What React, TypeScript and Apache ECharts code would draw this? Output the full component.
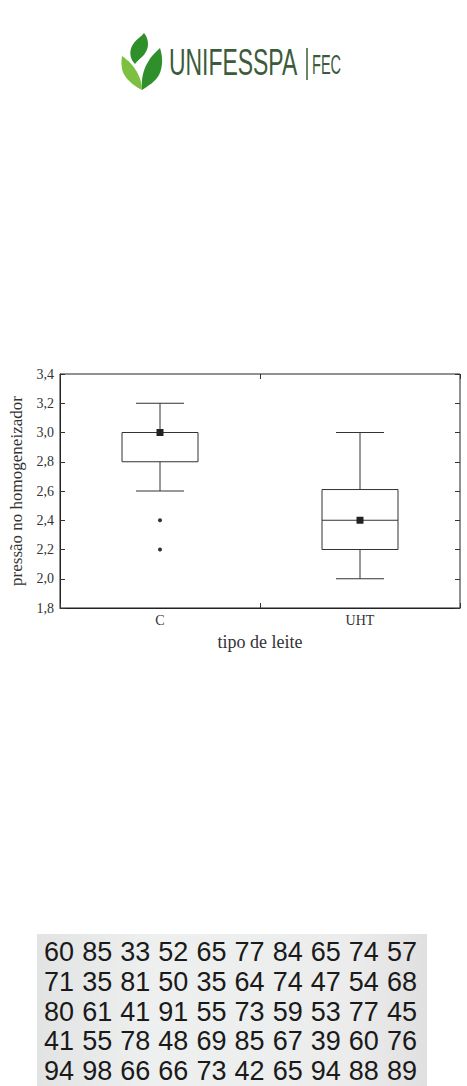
import React, { useEffect, useRef } from "react";
import * as echarts from "echarts";

// ---- Box plot data ----
const categories = ["C", "UHT"];
// [index, min(whisker low), Q1, median, Q3, max(whisker high)]
const boxStats = [
  [0, 2.6, 2.8, 3.0, 3.0, 3.2],
  [1, 2.0, 2.2, 2.4, 2.61, 3.0],
];
const means = [3.0, 2.4];
const outlierCats = ["C", "C"];
const outlierValues = [2.4, 2.2];
const yMin = 1.8;
const yMax = 3.4;
const yStep = 0.2;

// ---- Number table (scanned sample) ----
const tableCols = ["c1", "c2", "c3", "c4", "c5", "c6", "c7", "c8", "c9", "c10"];
const tableRowNames = ["r1", "r2", "r3", "r4", "r5"];
const row1 = [60, 85, 33, 52, 65, 77, 84, 65, 74, 57];
const row2 = [71, 35, 81, 50, 35, 64, 74, 47, 54, 68];
const row3 = [80, 61, 41, 91, 55, 73, 59, 53, 77, 45];
const row4 = [41, 55, 78, 48, 69, 85, 67, 39, 60, 76];
const row5 = [94, 98, 66, 66, 73, 42, 65, 94, 88, 89];
const tableRows = [row1, row2, row3, row4, row5];

const leafTop =
  "M144,33 C150,40 149,50 143,56 C140,59 137,61 135,64 C130,59 129,52 132,46 C135,40 141,37 144,33 Z";
const leafRight =
  "M142,90 C141,80 143,70 148,62 C151,56 156,52 160,48 C163,57 163,67 159,75 C155,82 148,86 142,90 Z";
const leafLeft =
  "M122,56 C128,60 134,66 138,74 C141,80 142,85 142,90 C136,87 129,82 125,76 C121,70 121,62 122,56 Z";

let registered = false;
function registerShapes() {
  if (registered) return;
  registered = true;
  echarts.graphic.registerShape("leafTop", echarts.graphic.extendPath(leafTop, {}));
  echarts.graphic.registerShape("leafRight", echarts.graphic.extendPath(leafRight, {}));
  echarts.graphic.registerShape("leafLeft", echarts.graphic.extendPath(leafLeft, {}));
}

const fmt = (v: number) => v.toFixed(1).replace(".", ",");

export default function App() {
  const ref = useRef<HTMLDivElement>(null);
  useEffect(() => {
    registerShapes();
    const chart = echarts.init(ref.current!, null, { renderer: "svg" });
    const serif = "Liberation Serif";
    const tableData: any[] = [];
    tableRows.forEach((row, r) =>
      row.forEach((v, c) => tableData.push([c, r, v]))
    );
    const logoGreen = "#3b5b3b";
    chart.setOption({
      animation: false,
      backgroundColor: "#ffffff",
      graphic: [
        { type: "leafTop", x: 0, y: 0, style: { fill: "#2f8f2a" } },
        { type: "leafRight", x: 0, y: 0, style: { fill: "#2f8f2a" } },
        { type: "leafLeft", x: 0, y: 0, style: { fill: "#7dbf3f" } },
        {
          type: "text",
          x: 169,
          y: 62,
          scaleX: 0.62,
          style: {
            text: "UNIFESSPA",
            fontFamily: "Liberation Sans",
            fontSize: 37,
            fill: logoGreen,
            verticalAlign: "middle",
          },
        },
        {
          type: "line",
          shape: { x1: 307, y1: 48, x2: 307, y2: 80 },
          style: { stroke: logoGreen, lineWidth: 1.5 },
        },
        {
          type: "text",
          x: 312,
          y: 65,
          scaleX: 0.52,
          style: {
            text: "FEC",
            fontFamily: "Liberation Sans",
            fontSize: 28,
            fill: logoGreen,
            verticalAlign: "middle",
          },
        },
        {
          type: "rect",
          z: -10,
          shape: { x: 37, y: 934, width: 390, height: 152 },
          style: {
            fill: {
              type: "linear",
              x: 0,
              y: 0,
              x2: 1,
              y2: 0,
              colorStops: [
                { offset: 0, color: "#e2e4e4" },
                { offset: 0.3, color: "#eef0f0" },
                { offset: 0.8, color: "#ececec" },
                { offset: 1, color: "#e0e0e0" },
              ],
            },
          },
        },
      ],
      grid: [
        {
          left: 59,
          top: 374,
          width: 401,
          height: 234,
          show: true,
          borderColor: "#222",
          borderWidth: 1,
          backgroundColor: "transparent",
        },
        { left: 40, top: 937, width: 381, height: 150 },
      ],
      xAxis: [
        {
          type: "category",
          gridIndex: 0,
          data: categories,
          position: "bottom",
          boundaryGap: true,
          axisLine: { show: true, lineStyle: { color: "#222", width: 1 } },
          axisTick: { show: true, inside: true, length: 5, lineStyle: { color: "#333" } },
          axisLabel: { fontFamily: serif, fontSize: 14, color: "#333", margin: 5 },
          splitLine: { show: false },
          name: "tipo de leite",
          nameLocation: "middle",
          nameGap: 25,
          nameTextStyle: { fontFamily: serif, fontSize: 18, color: "#333" },
        },
        {
          type: "category",
          gridIndex: 0,
          data: categories,
          position: "top",
          boundaryGap: true,
          axisLine: { show: false },
          axisTick: { show: true, inside: true, length: 5, lineStyle: { color: "#333" } },
          axisLabel: { show: false },
          splitLine: { show: false },
        },
        {
          type: "category",
          gridIndex: 1,
          data: tableCols,
          show: false,
        },
      ],
      yAxis: [
        {
          type: "value",
          gridIndex: 0,
          min: yMin,
          max: yMax,
          interval: yStep,
          axisLine: { show: true, lineStyle: { color: "#222", width: 1 } },
          axisTick: { show: true, inside: true, length: 5, lineStyle: { color: "#333" } },
          axisLabel: {
            fontFamily: serif,
            fontSize: 14,
            color: "#333",
            margin: 6,
            formatter: (v: number) => fmt(v),
          },
          splitLine: { show: false },
          name: "pressão no homogeneizador",
          nameLocation: "middle",
          nameGap: 35,
          nameTextStyle: { fontFamily: serif, fontSize: 17, color: "#333" },
        },
        {
          type: "value",
          gridIndex: 0,
          position: "right",
          min: yMin,
          max: yMax,
          interval: yStep,
          axisLine: { show: false },
          axisTick: { show: true, inside: true, length: 5, lineStyle: { color: "#333" } },
          axisLabel: { show: false },
          splitLine: { show: false },
        },
        {
          type: "category",
          gridIndex: 1,
          data: tableRowNames,
          inverse: true,
          show: false,
        },
      ],
      series: [
        {
          type: "custom",
          xAxisIndex: 0,
          yAxisIndex: 0,
          data: boxStats,
          encode: { x: 0, y: [1, 2, 3, 4, 5] },
          renderItem: (params: any, api: any) => {
            const idx = api.value(0);
            const pMin = api.coord([idx, api.value(1)]);
            const pQ1 = api.coord([idx, api.value(2)]);
            const pMed = api.coord([idx, api.value(3)]);
            const pQ3 = api.coord([idx, api.value(4)]);
            const pMax = api.coord([idx, api.value(5)]);
            const cx = pMed[0];
            const bandW = api.size([1, 0])[0];
            const bw = bandW * 0.38;
            const capW = bandW * 0.12;
            const st = { stroke: "#333", lineWidth: 1, fill: "none" };
            return {
              type: "group",
              children: [
                {
                  type: "rect",
                  shape: { x: cx - bw / 2, y: pQ3[1], width: bw, height: pQ1[1] - pQ3[1] },
                  style: st,
                },
                {
                  type: "line",
                  shape: { x1: cx - bw / 2, y1: pMed[1], x2: cx + bw / 2, y2: pMed[1] },
                  style: st,
                },
                {
                  type: "line",
                  shape: { x1: cx, y1: pQ3[1], x2: cx, y2: pMax[1] },
                  style: st,
                },
                {
                  type: "line",
                  shape: { x1: cx - capW, y1: pMax[1], x2: cx + capW, y2: pMax[1] },
                  style: st,
                },
                {
                  type: "line",
                  shape: { x1: cx, y1: pQ1[1], x2: cx, y2: pMin[1] },
                  style: st,
                },
                {
                  type: "line",
                  shape: { x1: cx - capW, y1: pMin[1], x2: cx + capW, y2: pMin[1] },
                  style: st,
                },
              ],
            };
          },
          z: 2,
        },
        {
          type: "scatter",
          xAxisIndex: 0,
          yAxisIndex: 0,
          data: categories.map((c, i) => [c, means[i]]),
          symbol: "rect",
          symbolSize: 7,
          itemStyle: { color: "#222", opacity: 1 },
          z: 3,
        },
        {
          type: "scatter",
          xAxisIndex: 0,
          yAxisIndex: 0,
          data: outlierCats.map((c, i) => [c, outlierValues[i]]),
          symbol: "circle",
          symbolSize: 4,
          itemStyle: { color: "#333", opacity: 1 },
          z: 3,
        },
        {
          type: "scatter",
          xAxisIndex: 2,
          yAxisIndex: 2,
          data: tableData,
          symbolSize: 1,
          itemStyle: { color: "rgba(0,0,0,0)", opacity: 1 },
          label: {
            show: true,
            position: "inside",
            formatter: (p: any) => String(p.value[2]),
            fontFamily: "Liberation Sans",
            fontSize: 27,
            color: "#1a1a1a",
            opacity: 1,
            textBorderWidth: 0,
          },
          emphasis: { disabled: true },
          z: 3,
        },
      ],
    });
    return () => chart.dispose();
  }, []);
  return (
    <div
      ref={ref}
      style={{ position: "fixed", left: 0, top: 0, width: 467, height: 1086 }}
    />
  );
}
